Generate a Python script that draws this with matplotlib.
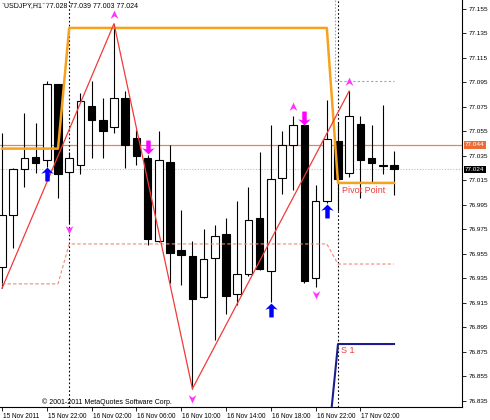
import matplotlib.pyplot as plt
from matplotlib.transforms import ScaledTranslation

plt.rcParams['font.family'] = ['Liberation Sans', 'DejaVu Sans']

# USDJPY H1, 15 Nov 18:00 .. 17 Nov 05:00
opens = [76.944, 76.987, 77.024, 77.034, 77.032, 77.094, 77.022, 77.028, 77.076, 77.064,
         77.059, 77.082, 77.050, 77.033, 76.966, 77.030, 76.958, 76.953, 76.920, 76.952,
         76.971, 76.922, 76.939, 76.984, 76.941, 77.017, 77.044, 77.060, 76.935, 76.998,
         77.047, 77.021, 77.061, 77.033, 77.028, 77.028]
highs = [77.054, 77.025, 77.070, 77.062, 77.096, 77.094, 77.038, 77.086, 77.096, 77.082,
         77.143, 77.088, 77.056, 77.036, 77.055, 77.044, 76.991, 76.966, 76.975, 76.979,
         76.984, 76.998, 77.010, 77.038, 77.060, 77.055, 77.068, 77.060, 77.011, 77.081,
         77.063, 77.088, 77.068, 77.060, 77.077, 77.039]
lows = [76.927, 76.960, 77.010, 77.021, 77.026, 77.001, 76.980, 77.020, 77.033, 77.033,
        77.054, 77.025, 77.028, 76.962, 76.965, 76.931, 76.930, 76.845, 76.919, 76.885,
        76.906, 76.913, 76.937, 76.942, 76.916, 77.004, 77.007, 76.931, 76.928, 76.997,
        76.990, 77.018, 77.001, 77.013, 77.020, 77.003]
closes = [76.987, 77.024, 77.033, 77.029, 77.094, 77.020, 77.033, 77.080, 77.064, 77.055,
          77.082, 77.044, 77.035, 76.967, 77.032, 76.956, 76.954, 76.918, 76.951, 76.970,
          76.921, 76.939, 76.983, 76.943, 77.016, 77.044, 77.060, 76.933, 76.998, 77.049,
          77.016, 77.068, 77.032, 77.029, 77.027, 77.024]

# zigzag turning points
zz_bars = [0, 10, 17, 31]
zz_prices = [76.927, 77.143, 76.845, 77.088]

# daily levels (day starts at bar index)
day_start = [0, 6, 30]
pivot_lvl = [77.041, 77.1395, 77.013]
s1_dash_lvl = [76.9306, 76.9632, 76.9468]
s1_lvl = [None, 76.790, 76.8815]

# signals / fractals
sig_up_bars = [4, 24, 29]
sig_up_prices = [77.020, 76.909, 76.990]
sig_dn_bars = [13, 27]
sig_dn_prices = [77.042, 77.066]
frac_up_bars = [10, 26, 31]
frac_up_prices = [77.150, 77.075, 77.095]
frac_dn_bars = [6, 17, 28]
frac_dn_prices = [76.975, 76.8375, 76.922]

level_line = 77.044
bid = 77.024
blue_level = 77.0962
day_seps = [6, 30]

price_ticks = [76.835, 76.855, 76.875, 76.895, 76.915, 76.935, 76.955, 76.975, 76.995,
               77.015, 77.035, 77.055, 77.075, 77.095, 77.115, 77.135, 77.155]
time_ticks = [0, 4, 8, 12, 16, 20, 24, 28, 32]
time_labels = ["15 Nov 2011", "15 Nov 22:00", "16 Nov 02:00", "16 Nov 06:00", "16 Nov 10:00",
               "16 Nov 14:00", "16 Nov 18:00", "16 Nov 22:00", "17 Nov 02:00"]

n = len(opens)
bars = list(range(n))


def per_bar(levels, first=0):
    out = []
    for i in range(first, n):
        d = sum(1 for s in day_start if s <= i) - 1
        out.append(levels[d])
    return out


fig = plt.figure(figsize=(4.9, 4.2), dpi=100)
ax = fig.add_axes([0, 13 / 420, 462 / 490, 407 / 420])
ax.set_xlim(-0.179, 41.07)
ax.set_ylim(76.8301, 77.1623)

# horizontal levels
ax.axhline(level_line, color="#F08050", lw=0.9, zorder=1)
ax.axhline(bid, color="#C0C0C0", lw=0.8, ls=(0, (1, 1.5)), zorder=1)
for d in day_seps:
    ax.axvline(d, color="black", lw=0.8, ls=(0, (1.5, 2)), zorder=1)

# candles
body_w = 0.68
for i in bars:
    o, h, l, c = opens[i], highs[i], lows[i], closes[i]
    ax.vlines(i, l, h, color="black", lw=0.8, zorder=2)
    bottom = min(o, c)
    height = max(abs(c - o), 0.0006)
    fc = "white" if c > o else "black"
    ax.bar(i, height, bottom=bottom, width=body_w, facecolor=fc, edgecolor="black",
           lw=0.8, zorder=3)

# indicators
ax.plot(bars, per_bar(s1_dash_lvl), color="#F08878", lw=0.8, ls=(0, (3, 2)), zorder=4)
ax.plot(bars, per_bar(pivot_lvl), color="#F5A21E", lw=1.8, zorder=4)
ax.plot(bars[6:], per_bar(s1_lvl, 6), color="#1C1C8C", lw=1.5, zorder=4)
ax.plot(zz_bars, zz_prices, color="#F23A3A", lw=0.9, zorder=5)

ax.plot([29.75, 29.75], [77.1623, blue_level], color="#6AB4E6", lw=0.8, ls=(0, (1.5, 1.5)), zorder=4)
ax.plot([29.75, 35], [blue_level, blue_level], color="#6AB4E6", lw=0.8, ls=(0, (2, 2)), zorder=4)
ax.plot([0, 4.3], [77.1601, 77.1601], color="#6AB4E6", lw=0.8, ls=(0, (2, 2)), zorder=4)

up_arrow = [(0, 1), (0.9, 0.1), (0.32, 0.28), (0.32, -1), (-0.32, -1), (-0.32, 0.28), (-0.9, 0.1), (0, 1)]
dn_arrow = [(x, -y) for x, y in up_arrow]
frac_up = [(0, 1), (0.8, -0.7), (0, -0.15), (-0.8, -0.7), (0, 1)]
frac_dn = [(x, -y) for x, y in frac_up]

ax.plot(sig_up_bars, sig_up_prices, ls="none", marker=up_arrow, ms=10, color="#0000FF", mew=0, zorder=6)
ax.plot(sig_dn_bars, sig_dn_prices, ls="none", marker=dn_arrow, ms=10, color="#FF00FF", mew=0, zorder=6)
ax.plot(frac_up_bars, frac_up_prices, ls="none", marker=frac_up, ms=7, color="#FF33FF", mew=0, zorder=6)
ax.plot(frac_dn_bars, frac_dn_prices, ls="none", marker=frac_dn, ms=7, color="#FF33FF", mew=0, zorder=6)

ax.annotate("Pivot Point", xy=(30, pivot_lvl[2]), xytext=(4, -3), textcoords="offset pixels",
            fontsize=6.5, color="#F03C3C", va="top", ha="left", zorder=7)
ax.annotate("S 1", xy=(30, s1_lvl[2]), xytext=(3, -2), textcoords="offset pixels",
            fontsize=6.5, color="#F03C3C", va="top", ha="left", zorder=7)

# texts
ax.text(4 / 462, 1 - 2 / 407, "USDJPY,H1  77.028 77.039 77.003 77.024", transform=ax.transAxes,
        fontsize=5, va="top", ha="left")
ax.text(42 / 462, 5 / 407, "\u00a9 2001-2011 MetaQuotes Software Corp.", transform=ax.transAxes,
        fontsize=5, va="center", ha="left")

# axes styling
for s in ["left", "top"]:
    ax.spines[s].set_visible(False)
for s in ["right", "bottom"]:
    ax.spines[s].set_linewidth(0.8)

ax.yaxis.tick_right()
ax.set_yticks(price_ticks)
ax.set_yticklabels([f"{p:.3f}" for p in price_ticks])
ax.tick_params(axis="y", direction="out", length=3, width=0.6, labelsize=4.6, pad=1.5)
ax.set_xticks(time_ticks)
ax.set_xticklabels(time_labels)
ax.tick_params(axis="x", direction="out", length=3, width=0.6, labelsize=4.7, pad=1.5)
offset = ScaledTranslation(1 / 100, 0, fig.dpi_scale_trans)
for lab in ax.get_xticklabels():
    lab.set_ha("left")
    lab.set_transform(lab.get_transform() + offset)

for val, bg in [(level_line, "#EE6A34"), (bid, "black")]:
    ax.annotate(f"{val:.3f}", xy=(1, val), xycoords=("axes fraction", "data"), xytext=(3, 0),
                textcoords="offset pixels", va="center", ha="left", fontsize=4.6, color="white",
                annotation_clip=False,
                bbox=dict(boxstyle="square,pad=0.2", fc=bg, ec="none"))

fig.savefig("out.png", dpi=100)
